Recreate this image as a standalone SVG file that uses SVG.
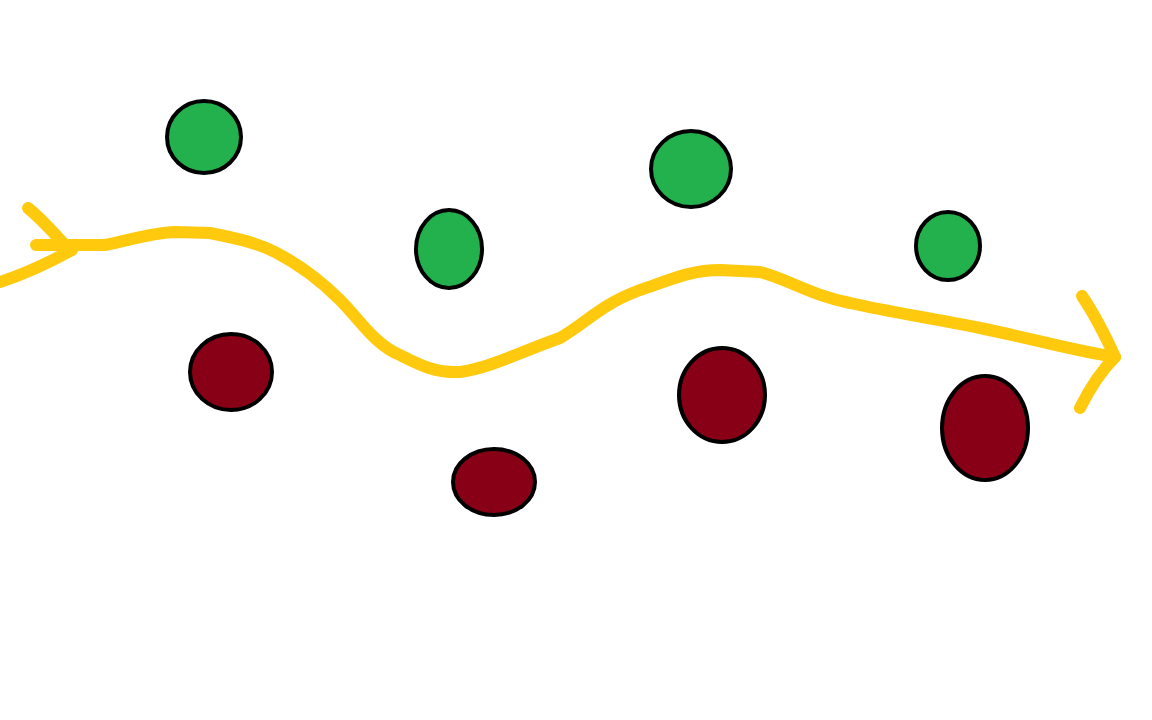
<svg xmlns="http://www.w3.org/2000/svg" width="1152" height="720" viewBox="0 0 1152 720">
<style>
.g{fill:#22B14C;stroke:#000;stroke-width:4}
.r{fill:#880015;stroke:#000;stroke-width:4}
.y{fill:none;stroke:#FFC90E;stroke-width:12;stroke-linecap:round;stroke-linejoin:round}
</style>
<rect width="1152" height="720" fill="#fff"/>
<g id="green1"><ellipse class="g" cx="204" cy="137" rx="37" ry="36"/></g>
<g id="green2"><ellipse class="g" cx="449" cy="249" rx="33" ry="39"/></g>
<g id="green3"><ellipse class="g" cx="691" cy="169" rx="40" ry="38"/></g>
<g id="green4"><ellipse class="g" cx="948" cy="246" rx="32" ry="34"/></g>
<g id="red1"><ellipse class="r" cx="231" cy="372" rx="41" ry="38"/></g>
<g id="red2"><ellipse class="r" cx="494" cy="482" rx="41" ry="33"/></g>
<g id="red3"><ellipse class="r" cx="722" cy="395" rx="43" ry="47"/></g>
<g id="red4"><ellipse class="r" cx="985" cy="428" rx="43" ry="52"/></g>
<g id="connectors">
<path class="y" d="M0,282 C25,274 50,262 72,250"/>
<path class="y" d="M28,208 C45,222 55,235 66,246"/>
<path class="y" d="M36,245 L105,245 C130,240 150,233 175,232 L210,233 C235,238 255,242 275,252 C300,265 320,280 340,300 C360,320 375,345 400,355 C420,365 435,373 460,372 C490,368 520,352 560,338 C590,320 600,305 640,290 C670,280 690,270 720,270 L760,272 C790,280 810,295 850,303 C890,312 930,318 980,328 C1030,338 1070,350 1115,357"/>
<path class="y" d="M1082,296 C1095,315 1105,335 1115,357 C1100,372 1090,388 1080,408"/>
</g>
</svg>
